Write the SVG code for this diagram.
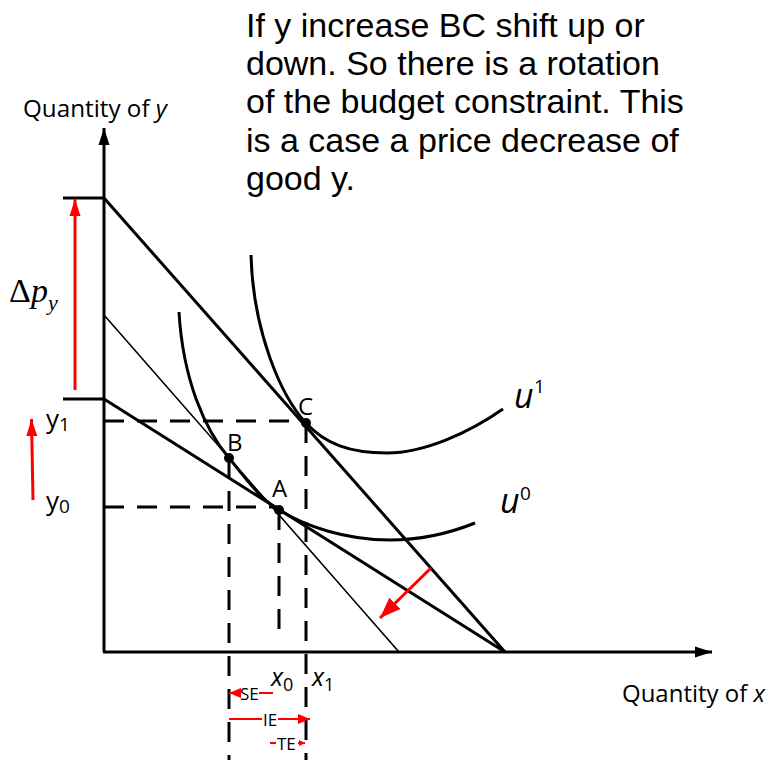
<svg xmlns="http://www.w3.org/2000/svg" width="769" height="760" viewBox="0 0 769 760">
<defs>
<style>
.ax{stroke:#000;stroke-width:3;fill:none}
.bc{stroke:#000;stroke-width:3;fill:none}
.thin{stroke:#000;stroke-width:1.6;fill:none}
.dash{stroke:#000;stroke-width:3;fill:none;stroke-dasharray:20 13}
.red{stroke:#ff0000;stroke-width:3;fill:none}
.redt{stroke:#ff0000;stroke-width:2;fill:none}
.cal{font-family:"Open Sans","Liberation Sans",sans-serif;fill:#000}
.hel{font-family:"Liberation Sans",Arial,sans-serif;fill:#000;font-size:34px}
</style>
<marker id="ah" markerUnits="userSpaceOnUse" markerWidth="18" markerHeight="12" refX="17" refY="6" orient="auto"><path d="M0,0.5 L17,6 L0,11.5 z" fill="#000"/></marker>
<marker id="rh" markerUnits="userSpaceOnUse" markerWidth="18" markerHeight="12" refX="17" refY="6" orient="auto"><path d="M0,0.5 L17,6 L0,11.5 z" fill="#ff0000"/></marker>
<marker id="rhb" markerUnits="userSpaceOnUse" markerWidth="22" markerHeight="16" refX="21" refY="8" orient="auto"><path d="M0,0 L21,8 L0,16 z" fill="#ff0000"/></marker>
<marker id="rhs" markerUnits="userSpaceOnUse" markerWidth="13" markerHeight="11" refX="12" refY="5.5" orient="auto"><path d="M0,0.5 L12,5.5 L0,10.5 z" fill="#ff0000"/></marker>
<marker id="rht" markerUnits="userSpaceOnUse" markerWidth="7" markerHeight="7" refX="6" refY="3.5" orient="auto"><path d="M0,0.5 L6,3.5 L0,6.5 z" fill="#ff0000"/></marker>
</defs>

<g id="caption">
<text class="hel" x="246" y="37">If y increase BC shift up or</text>
<text class="hel" x="246" y="75">down. So there is a rotation</text>
<text class="hel" x="246" y="113">of the budget constraint. This</text>
<text class="hel" x="246" y="152">is a case a price decrease of</text>
<text class="hel" x="246" y="190">good y.</text>
</g>

<g id="axes">
<line class="ax" x1="104" y1="652" x2="104" y2="128" marker-end="url(#ah)"/>
<line class="ax" x1="103" y1="652" x2="712" y2="652" marker-end="url(#ah)"/>
<line class="ax" x1="63" y1="198" x2="104" y2="198"/>
<line class="ax" x1="63" y1="399" x2="104" y2="399"/>
<text class="cal" x="23" y="117" font-size="23" textLength="144" lengthAdjust="spacingAndGlyphs">Quantity of <tspan font-style="italic">y</tspan></text>
<text class="cal" x="622" y="702" font-size="23" textLength="143" lengthAdjust="spacingAndGlyphs">Quantity of <tspan font-style="italic">x</tspan></text>
</g>

<g id="connectors">
<line class="bc" x1="104" y1="198" x2="505" y2="652"/>
<line class="bc" x1="104" y1="399" x2="505" y2="652"/>
<line class="thin" x1="104" y1="315" x2="399" y2="652"/>
<line class="dash" x1="104" y1="421" x2="306" y2="421"/>
<line class="dash" x1="104" y1="507" x2="279" y2="507"/>
<line class="dash" x1="306" y1="423" x2="306" y2="760"/>
<line class="dash" x1="229" y1="458" x2="229" y2="760"/>
<line class="dash" x1="279" y1="510" x2="279" y2="640"/>
<line class="red" x1="75" y1="390" x2="75" y2="199" marker-end="url(#rh)"/>
<line class="red" x1="33" y1="500" x2="31.5" y2="419" marker-end="url(#rh)"/>
<line class="red" x1="431" y1="568" x2="380" y2="618" marker-end="url(#rhb)"/>
</g>

<g id="u1">
<path class="bc" d="M251,255 C253,330 280,395 306,423 C325,444 350,453 387,453 C425,453 470,432 503,409"/>
<text class="cal" x="514" y="408" font-size="34" font-style="italic">u</text>
<text class="cal" x="534" y="393" font-size="19">1</text>
</g>

<g id="u0">
<path class="bc" d="M179,312 C183,380 205,430 229,458 C244,476 260,499 279,510 C305,526 345,540 390,540 C420,540 450,533 475,523"/>
<text class="cal" x="500" y="513" font-size="34" font-style="italic">u</text>
<text class="cal" x="520" y="500" font-size="19">0</text>
</g>

<g id="pointC">
<circle cx="306" cy="423" r="5"/>
<text class="cal" x="298" y="415" font-size="24">C</text>
</g>
<g id="pointB">
<circle cx="229" cy="458" r="5"/>
<text class="cal" x="227" y="451" font-size="24">B</text>
</g>
<g id="pointA">
<circle cx="279" cy="510" r="5"/>
<text class="cal" x="272" y="497" font-size="24">A</text>
</g>

<g id="yLabels">
<text font-family="'Liberation Serif',serif" font-size="34" x="9" y="302">Δ<tspan font-style="italic">p</tspan><tspan font-style="italic" font-size="22" dy="8">y</tspan></text>
<text class="cal" x="46" y="428" font-size="26">y<tspan font-size="19" dy="3">1</tspan></text>
<text class="cal" x="46" y="510" font-size="26">y<tspan font-size="19" dy="3">0</tspan></text>
</g>

<g id="xLabels">
<text class="cal" x="271" y="686" font-size="25" font-style="italic">x<tspan font-size="18" font-style="normal" dy="5">0</tspan></text>
<text class="cal" x="312" y="686" font-size="25" font-style="italic">x<tspan font-size="18" font-style="normal" dy="5">1</tspan></text>
</g>

<g id="effects">
<line class="redt" x1="273" y1="693" x2="259" y2="693"/>
<line class="redt" x1="241" y1="693" x2="229" y2="693" marker-end="url(#rhs)"/>
<text class="cal" x="240" y="700" font-size="17">SE</text>
<line class="redt" x1="229" y1="719" x2="262" y2="719"/>
<line class="redt" x1="278" y1="719" x2="310" y2="719" marker-end="url(#rhs)"/>
<text class="cal" x="263" y="726" font-size="17">IE</text>
<line class="redt" x1="270" y1="743" x2="276" y2="743"/>
<line class="redt" x1="298" y1="743" x2="305" y2="743" marker-end="url(#rht)"/>
<text class="cal" x="277" y="750" font-size="17">TE</text>
</g>
</svg>
